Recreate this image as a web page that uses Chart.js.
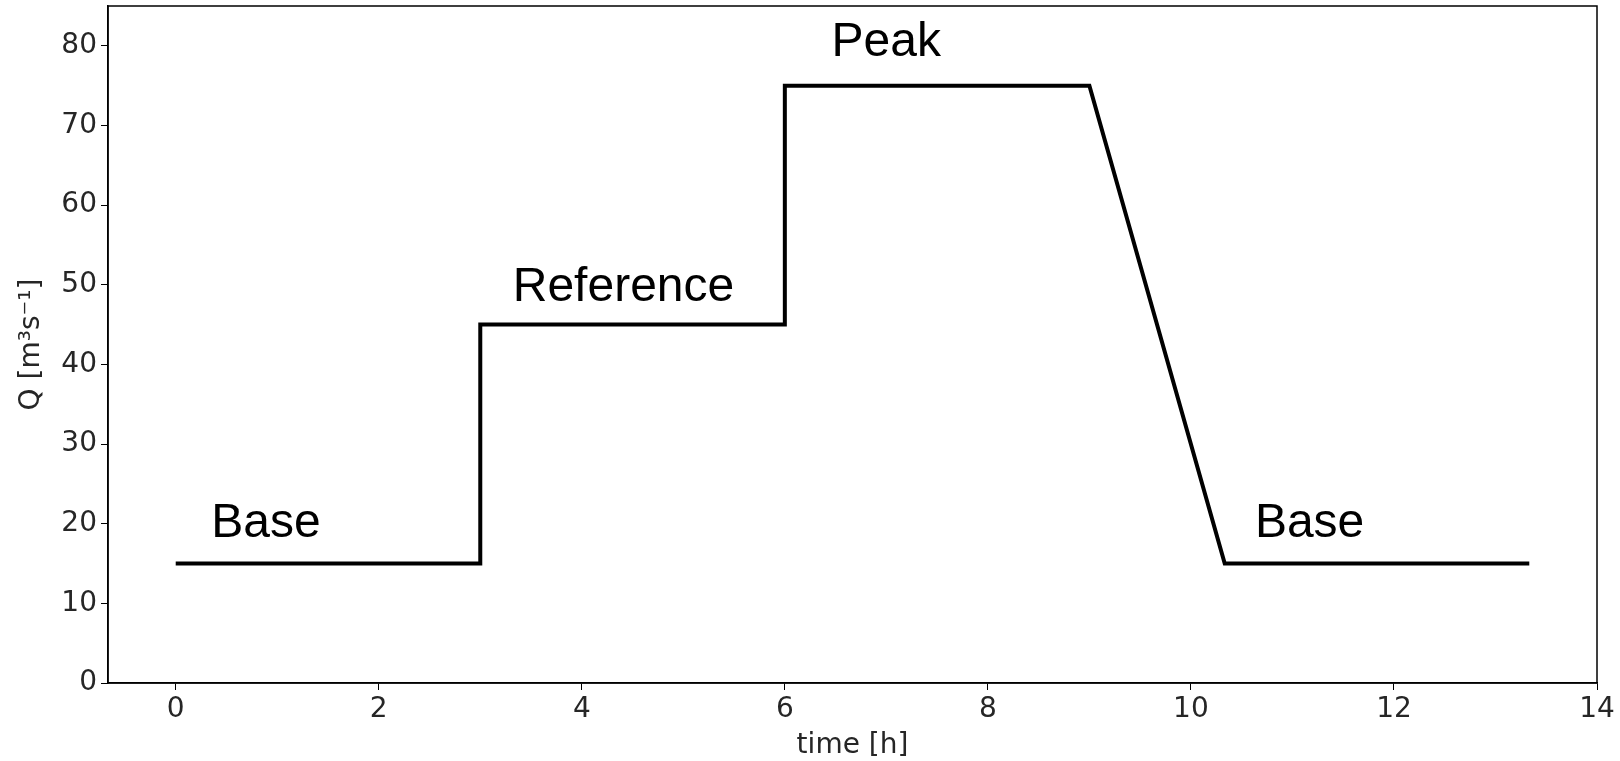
<!DOCTYPE html>
<html>
<head>
<meta charset="utf-8">
<script src="https://cdn.jsdelivr.net/npm/chart.js@4"></script>
<style>
  html, body { margin: 0; padding: 0; background: #fff; }
  #wrap { width: 1620px; height: 761px; }
</style>
</head>
<body>
<div id="wrap"><canvas id="grafico"></canvas></div>
<script>
// Dados do hidrograma
const tempo = [0, 3, 3, 6, 6, 9, 10.333, 13.333];
const vazao = [15, 15, 45, 45, 75, 75, 15, 15];
const xTicks = [0, 2, 4, 6, 8, 10, 12, 14];
const yTicks = [0, 10, 20, 30, 40, 50, 60, 70, 80];

// Rótulos das fases (posição em unidades de dados, linha de base do texto)
const faseNomes = ['Base', 'Reference', 'Peak', 'Base'];
const faseX = [0.35, 3.32, 6.46, 10.63];
const faseY = [18.3, 47.9, 78.7, 18.3];

const pontos = tempo.map((t, i) => ({ x: t, y: vazao[i] }));

// Moldura e textos das fases
const extras = {
    id: 'extras',
    afterDraw(chart) {
        const { ctx, chartArea: a, scales } = chart;
        ctx.save();
        ctx.strokeStyle = '#000';
        ctx.lineWidth = 1.5;
        ctx.strokeRect(a.left, a.top, a.right - a.left, a.bottom - a.top);
        ctx.fillStyle = '#000';
        ctx.font = '48px "Liberation Sans", Arial, sans-serif';
        ctx.textBaseline = 'alphabetic';
        ctx.textAlign = 'left';
        faseNomes.forEach((n, i) => {
            ctx.fillText(n, scales.x.getPixelForValue(faseX[i]), scales.y.getPixelForValue(faseY[i]));
        });
        ctx.restore();
    }
};

const tickFont = { family: '"DejaVu Sans", sans-serif', size: 28 };

new Chart(document.getElementById('grafico').getContext('2d'), {
    type: 'line',
    data: {
        datasets: [{
            data: pontos,
            borderColor: '#000',
            borderWidth: 4,
            pointRadius: 0,
            tension: 0,
            fill: false
        }]
    },
    options: {
        responsive: true,
        maintainAspectRatio: false,
        animation: false,
        layout: { padding: { top: 6, right: 23, left: 0, bottom: 0 } },
        plugins: { legend: { display: false }, tooltip: { enabled: false } },
        scales: {
            x: {
                type: 'linear',
                min: -0.667,
                max: 14,
                afterBuildTicks: s => { s.ticks = xTicks.map(v => ({ value: v })); },
                afterFit: s => { s.height = 78; s.paddingLeft = 0; s.paddingRight = 0; },
                ticks: { color: '#262626', font: tickFont, padding: 3, maxRotation: 0 },
                grid: { display: true, drawOnChartArea: false, drawTicks: true, tickLength: 7, color: '#000' },
                border: { display: true, color: '#000', width: 1.5 },
                title: { display: true, text: 'time [h]', color: '#262626', font: tickFont, padding: { top: 5, bottom: -2 } }
            },
            y: {
                min: 0,
                max: 85,
                afterBuildTicks: s => { s.ticks = yTicks.map(v => ({ value: v })); },
                afterFit: s => { s.width = 108; s.paddingTop = 0; s.paddingBottom = 0; },
                ticks: { color: '#262626', font: tickFont, padding: 4 },
                grid: { display: true, drawOnChartArea: false, drawTicks: true, tickLength: 7, color: '#000' },
                border: { display: true, color: '#000', width: 1.5 },
                title: { display: true, text: 'Q [m³s⁻¹]', color: '#262626', font: tickFont, padding: { top: 15, bottom: 0 } }
            }
        }
    },
    plugins: [extras]
});
</script>
</body>
</html>
